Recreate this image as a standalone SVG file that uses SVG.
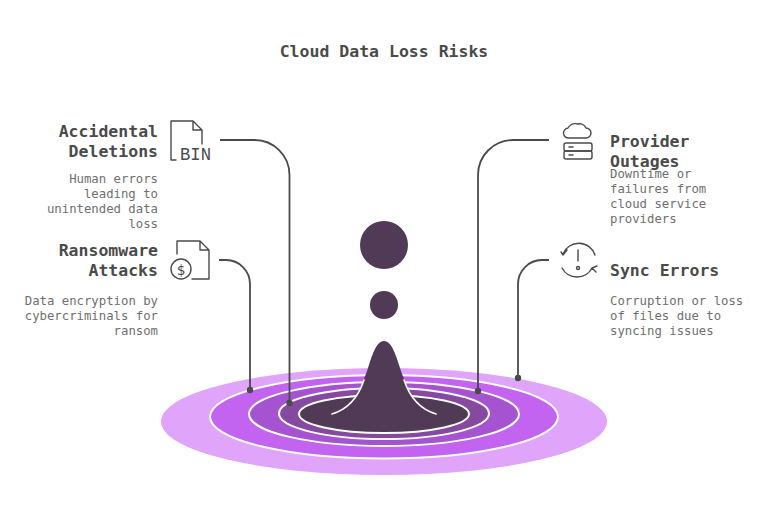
<svg xmlns="http://www.w3.org/2000/svg" width="768" height="518" viewBox="0 0 768 518">
<style>
text{font-family:"DejaVu Sans Mono","Liberation Mono",monospace}
.t{font-size:16.5px;font-weight:700;fill:#4a4a4a}
.b{font-size:12.3px;fill:#6f6f6f}
.e{text-anchor:end}
.c{fill:none;stroke:#4a4a4a;stroke-width:1.8}
.i{fill:none;stroke:#4a4a4a;stroke-width:1.4;stroke-linecap:round;stroke-linejoin:round}
.r{stroke:#fff;stroke-width:2}
.d{fill:#4a4a4a}
</style>
<rect width="768" height="518" fill="#fff"/>
<text x="384" y="57" class="t" text-anchor="middle">Cloud Data Loss Risks</text>
<g id="ripple">
<ellipse cx="384" cy="421.5" rx="223" ry="53.5" fill="#e0a4fb"/>
<ellipse cx="384" cy="416.7" rx="174" ry="41.7" fill="#c264f0" class="r"/>
<ellipse cx="384" cy="414" rx="135" ry="32" fill="#a653d2" class="r"/>
<ellipse cx="384" cy="413.6" rx="105" ry="25.5" fill="#854aa0" class="r"/>
<ellipse cx="384" cy="414" rx="85" ry="19" fill="#503a56" class="r"/>
<path d="M332 414C352 408 360 392 368 368C373 352 377 341 384 341C391 341 395 352 400 368C408 392 416 408 436 414Q384 426 332 414Z" fill="#503a56"/>
<path d="M332 414C352 408 360 392 364 380M404 380C408 392 416 408 436 414" fill="none" stroke="#fff" stroke-width="1.6" stroke-linecap="round"/>
<circle cx="384" cy="245" r="24" fill="#503a56"/>
<circle cx="384" cy="305" r="14" fill="#503a56"/>
</g>
<g id="connectors">
<path class="c" d="M220 140H254A35 35 0 0 1 289.500 175V403"/>
<circle class="d" cx="289.500" cy="403" r="3.200"/>
<path class="c" d="M219 260H226A24 24 0 0 1 250 284V390"/>
<circle class="d" cx="250" cy="390" r="3.200"/>
<path class="c" d="M549 140H513A35 35 0 0 0 478 175V391"/>
<circle class="d" cx="478" cy="391" r="3.200"/>
<path class="c" d="M549 260H542A24 24 0 0 0 518 284V378"/>
<circle class="d" cx="518" cy="378" r="3.200"/>
</g>
<g id="node-accidental">
<text x="158" y="137" class="t e">Accidental</text>
<text x="158" y="157" class="t e">Deletions</text>
<text x="158" y="183" class="b e">Human errors</text>
<text x="158" y="198" class="b e">leading to</text>
<text x="158" y="213" class="b e">unintended data</text>
<text x="158" y="228" class="b e">loss</text>
<path class="i" d="M176 160H171V121H193L202 130V144M193 121V130H202"/>
<text x="180" y="160" font-size="18" fill="#4a4a4a" style="font-family:'Liberation Mono',monospace" textLength="31" lengthAdjust="spacingAndGlyphs">BIN</text>
</g>
<g id="node-ransomware">
<text x="158" y="256" class="t e">Ransomware</text>
<text x="158" y="276" class="t e">Attacks</text>
<text x="158" y="305" class="b e">Data encryption by</text>
<text x="158" y="320" class="b e">cybercriminals for</text>
<text x="158" y="335" class="b e">ransom</text>
<path class="i" d="M177 254V241H200L209 250V279H192M200 241V250H209"/>
<circle class="i" cx="181" cy="269" r="10"/>
<text x="181" y="274.500" font-size="14" fill="#4a4a4a" text-anchor="middle">$</text>
</g>
<g id="node-provider">
<text x="610" y="147" class="t">Provider</text>
<text x="610" y="167" class="t">Outages</text>
<text x="610" y="178" class="b">Downtime or</text>
<text x="610" y="193" class="b">failures from</text>
<text x="610" y="208" class="b">cloud service</text>
<text x="610" y="223" class="b">providers</text>
<path class="i" d="M569 138H586A5 5 0 0 0 586 128A7 7 0 0 0 578 124A9 9 0 0 0 568 128A5 5 0 0 0 569 138Z"/>
<rect class="i" x="564" y="143" width="28" height="8" rx="2"/>
<rect class="i" x="564" y="151" width="28" height="8" rx="2"/>
<path class="i" d="M569 147H573M569 155H573"/>
</g>
<g id="node-sync">
<text x="610" y="276" class="t">Sync Errors</text>
<text x="610" y="305" class="b">Corruption or loss</text>
<text x="610" y="320" class="b">of files due to</text>
<text x="610" y="335" class="b">syncing issues</text>
<path class="i" d="M563 254A17 17 0 0 1 595 255M592 268A17 17 0 0 1 562 268M561 252L563 255L567 250M597 266L592 268L596 272"/>
<path class="i" d="M578 250V261"/>
<circle class="i" cx="578" cy="268" r="1.500"/>
</g>
</svg>
